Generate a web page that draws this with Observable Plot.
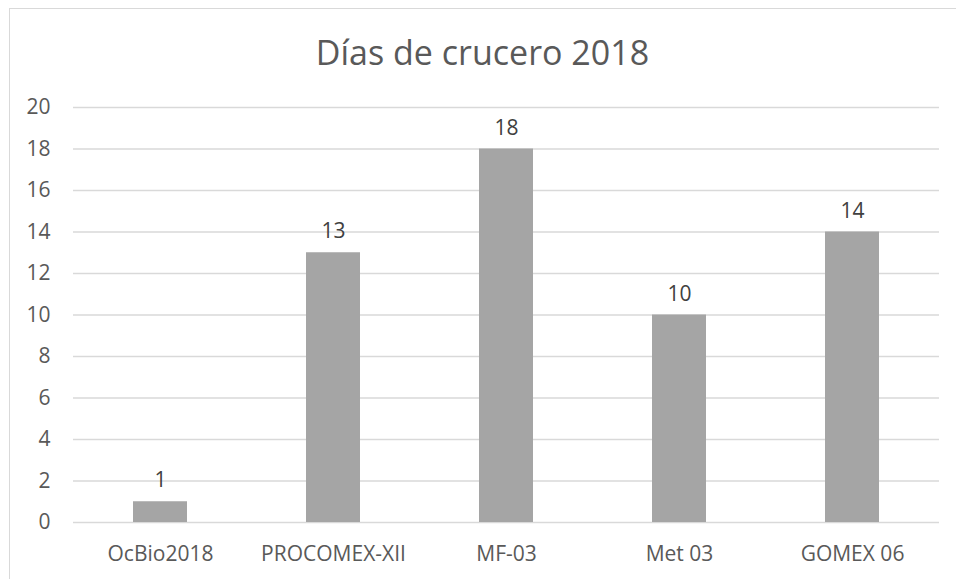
<!DOCTYPE html>
<html>
<head>
<meta charset="utf-8">
<script src="https://cdn.jsdelivr.net/npm/d3@7"></script>
<script src="https://cdn.jsdelivr.net/npm/@observablehq/plot@0.6"></script>
<style>
  html, body { margin: 0; padding: 0; background: #fff; }
  #wrap { position: relative; width: 956px; height: 579px; overflow: hidden; font-family: "Open Sans", sans-serif; }
  #frame { position: absolute; left: 9px; top: 8px; width: 960px; height: 600px; border-left: 1.5px solid #d9d9d9; border-top: 1.5px solid #d9d9d9; box-sizing: border-box; }
  #title { position: absolute; left: 9px; width: 947px; top: 29px; text-align: center; font-size: 34px; color: #595959; line-height: 46px; }
  #chart { position: absolute; left: 0; top: 90px; }
</style>
</head>
<body>
<div id="wrap">
  <div id="frame"></div>
  <div id="title">Días de crucero 2018</div>
  <div id="chart"></div>
</div>
<script>
const categories = ["OcBio2018", "PROCOMEX-XII", "MF-03", "Met 03", "GOMEX 06"];
const values = [1, 13, 18, 10, 14];
const yTicks = [0, 2, 4, 6, 8, 10, 12, 14, 16, 18, 20];

const data = categories.map((c, i) => ({cat: c, val: values[i]}));

const plot = Plot.plot({
  width: 956,
  height: 489,
  marginLeft: 73,
  marginRight: 17,
  marginTop: 17,
  marginBottom: 57,
  style: {fontFamily: "'Open Sans', sans-serif", fontSize: "21px", color: "#595959", background: "transparent"},
  x: {domain: categories, paddingInner: 0.69, paddingOuter: 0.345, label: null},
  y: {domain: [0, 20], label: null},
  marks: [
    Plot.gridY(yTicks, {stroke: "#d9d9d9", strokeOpacity: 1, strokeWidth: 1.3}),
    Plot.barY(data, {x: "cat", y: "val", fill: "#a5a5a5"}),
    Plot.text(data, {x: "cat", y: "val", text: d => String(d.val), dy: -21, fill: "#404040", fontSize: 21}),
    Plot.axisX({tickSize: 0, tickPadding: 24, fontSize: 21, fill: "#595959"}),
    Plot.axisY({ticks: yTicks, tickSize: 0, tickPadding: 23, fontSize: 21, fill: "#595959"})
  ]
});
document.getElementById("chart").appendChild(plot);
</script>
</body>
</html>
